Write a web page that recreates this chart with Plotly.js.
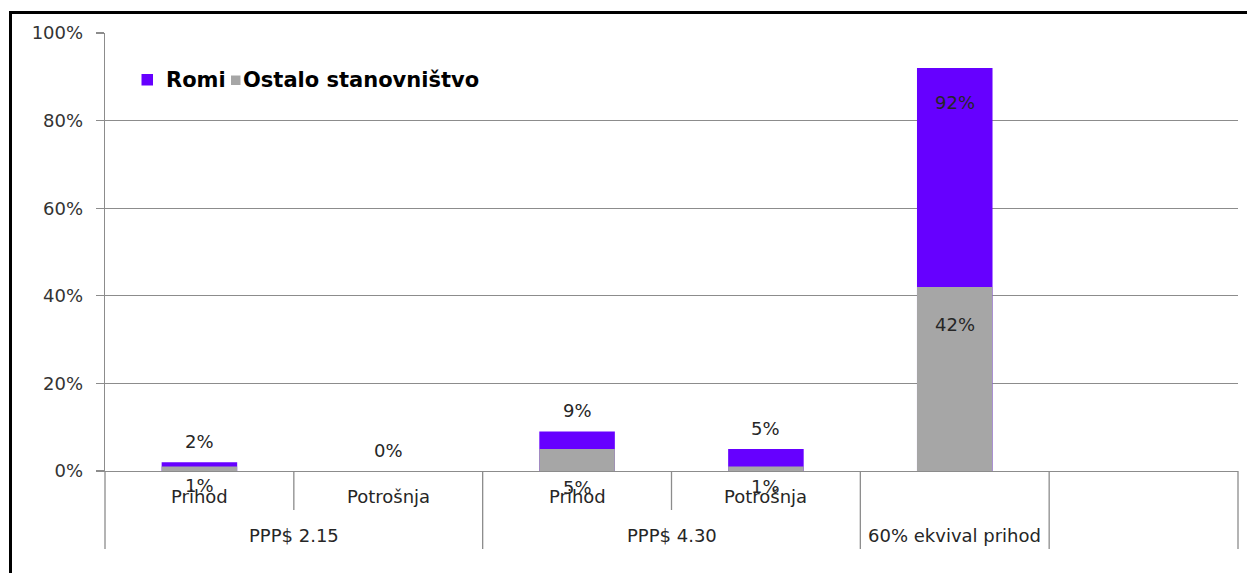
<!DOCTYPE html>
<html><head><meta charset="utf-8">
<script src="https://cdn.plot.ly/plotly-3.0.1.min.js"></script>
<style>
html,body{margin:0;padding:0;background:#fff;}
#wrap{position:relative;width:1247px;height:573px;overflow:hidden;}
#chart{width:1247px;height:573px;}
#frame{position:absolute;left:9px;top:11px;width:1400px;height:800px;border-top:3px solid #000;border-left:3px solid #000;pointer-events:none;}
</style></head><body>
<div id="wrap"><div id="chart"></div><div id="frame"></div></div>
<script>
// ---- data ----
const outerGroups = ["PPP$ 2.15", "PPP$ 2.15", "PPP$ 4.30", "PPP$ 4.30", "60% ekvival prihod", ""];
const innerLabels = ["Prihod", "Potrošnja", "Prihod", "Potrošnja", "", ""];
const romi   = [0.02, 0.00, 0.09, 0.05, 0.92, null];
const ostalo = [0.01, 0.00, 0.05, 0.01, 0.42, null];
const romiLabels   = ["2%", "0%", "9%", "5%", "92%", ""];
const ostaloLabels = ["1%", "", "5%", "1%", "42%", ""];
const seriesNames = ["Romi", "Ostalo stanovništvo"];

// ---- style ----
const PURPLE = "#6600FF", GRAY = "#A6A6A6", LINE = "#8c8c8c", TXT = "#262626";
const FONT = "DejaVu Sans";
const W = 1247, H = 573, ML = 105, MR = 9, MT = 33, MB = 102;
const PW = W - ML - MR, PH = H - MT - MB;
const n = innerLabels.length;
const xIdx = innerLabels.map((_, i) => i);
const ostaloShift = [-19, 0, -38, -20, -37, 0];

const px2x = p => (p - ML) / PW;
const py2y = p => (H - MB - p) / PH;

const traces = [
  {type: "bar", name: seriesNames[0], x: xIdx, y: romi, marker: {color: PURPLE}, width: 0.4, hoverinfo: "skip"},
  {type: "bar", name: seriesNames[1], x: xIdx, y: ostalo, marker: {color: GRAY}, width: 0.4, hoverinfo: "skip"}
];

const annotations = [];
const shapes = [];

// data labels
romi.forEach((v, i) => {
  if (v === null || romiLabels[i] === "") return;
  const inside = v > 0.8;
  annotations.push({x: i, y: v, xref: "x", yref: "y", text: romiLabels[i], showarrow: false,
    yanchor: "middle", yshift: inside ? -34 : 21, font: {family: FONT, size: 18, color: TXT}});
});
ostalo.forEach((v, i) => {
  if (v === null || ostaloLabels[i] === "") return;
  annotations.push({x: i, y: v, xref: "x", yref: "y", text: ostaloLabels[i], showarrow: false,
    yanchor: "middle", yshift: ostaloShift[i], font: {family: FONT, size: 18, color: TXT}});
});

// inner category labels
innerLabels.forEach((t, i) => {
  if (!t) return;
  annotations.push({x: i, y: 0, xref: "x", yref: "paper", text: t, showarrow: false,
    yanchor: "middle", yshift: -25, font: {family: FONT, size: 18, color: TXT}});
});
// outer group labels
let s = 0;
for (let i = 1; i <= n; i++) {
  if (i === n || outerGroups[i] !== outerGroups[s]) {
    if (outerGroups[s]) {
      annotations.push({x: (s + i - 1) / 2, y: 0, xref: "x", yref: "paper", text: outerGroups[s], showarrow: false,
        yanchor: "middle", yshift: -64, font: {family: FONT, size: 18, color: TXT}});
    }
    s = i;
  }
}
// dividers
for (let b = 0; b <= n; b++) {
  const long = (b === 0 || b === n || outerGroups[b - 1] !== outerGroups[b]);
  const len = long ? 78 : 39;
  shapes.push({type: "line", xref: "paper", yref: "paper", x0: b / n, x1: b / n, y0: 0, y1: -len / PH,
    line: {color: LINE, width: 1.3}});
}

// legend (custom, Excel style)
shapes.push({type: "rect", xref: "paper", yref: "paper", x0: px2x(141.5), x1: px2x(153), y0: py2y(85.5), y1: py2y(74),
  fillcolor: PURPLE, line: {width: 0}});
shapes.push({type: "rect", xref: "paper", yref: "paper", x0: px2x(231), x1: px2x(240.5), y0: py2y(85), y1: py2y(75.5),
  fillcolor: GRAY, line: {width: 0}});
annotations.push({x: px2x(166), y: py2y(80), xref: "paper", yref: "paper", text: "<b>" + seriesNames[0] + "</b>",
  showarrow: false, xanchor: "left", yanchor: "middle", borderpad: 0, xshift: -1,
  font: {family: FONT, size: 21, color: "#000"}});
annotations.push({x: px2x(243), y: py2y(80), xref: "paper", yref: "paper", text: "<b>" + seriesNames[1] + "</b>",
  showarrow: false, xanchor: "left", yanchor: "middle", borderpad: 0, xshift: -1,
  font: {family: FONT, size: 21, color: "#000"}});

const layout = {
  width: W, height: H,
  margin: {l: ML, r: MR, t: MT, b: MB, pad: 0},
  paper_bgcolor: "#fff", plot_bgcolor: "#fff",
  barmode: "overlay",
  showlegend: false,
  font: {family: FONT, size: 18, color: TXT},
  xaxis: {type: "linear", range: [-0.5, n - 0.5], showgrid: false, zeroline: false,
    showticklabels: false, ticks: "", showline: true, linecolor: LINE, linewidth: 1.3, fixedrange: true},
  yaxis: {range: [0, 1], tickvals: [0, 0.2, 0.4, 0.6, 0.8, 1], tickformat: ".0%",
    showgrid: true, gridcolor: LINE, gridwidth: 1.3, zeroline: false,
    showline: true, linecolor: LINE, linewidth: 1.3,
    ticks: "outside", ticklen: 8, tickcolor: LINE, tickwidth: 1.3, ticklabelstandoff: 9,
    tickfont: {family: FONT, size: 18, color: "#333"}, fixedrange: true},
  annotations: annotations,
  shapes: shapes
};

Plotly.newPlot("chart", traces, layout, {displayModeBar: false, staticPlot: true});
</script>
</body></html>
